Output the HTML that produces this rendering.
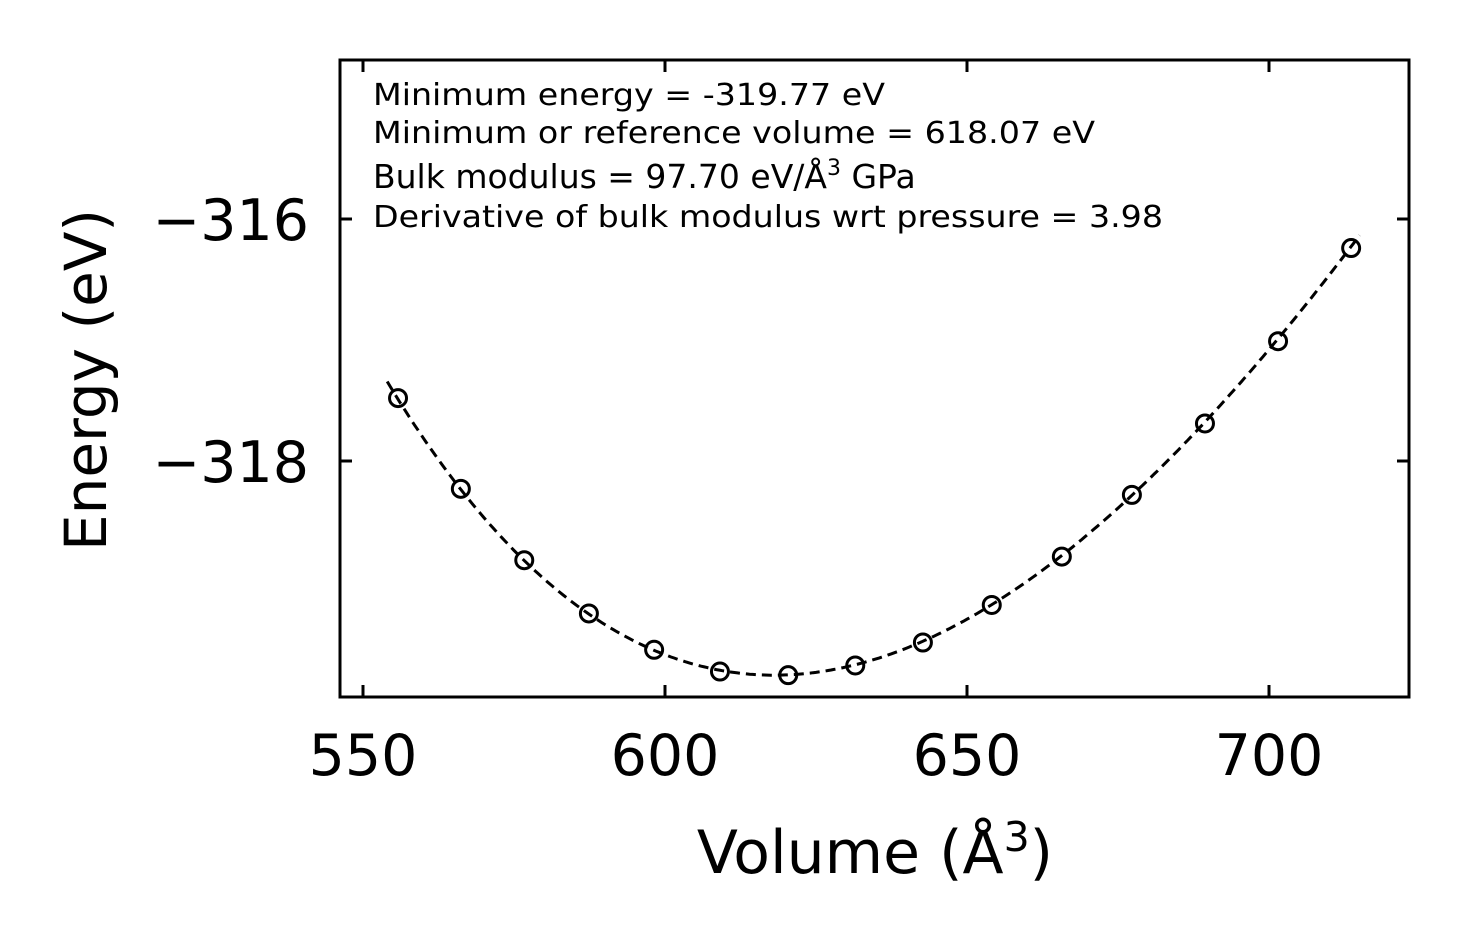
<!DOCTYPE html>
<html><head><meta charset="utf-8"><style>
body{margin:0;background:#fff}
svg{display:block;font-family:"DejaVu Sans","Liberation Sans",sans-serif}
</style></head><body>
<svg id="chart" width="1469" height="943" viewBox="0 0 1469 943" xmlns="http://www.w3.org/2000/svg">
<rect width="1469" height="943" fill="#fff"/>
<g id="plot"></g>
<text x="373" y="105" font-size="30" textLength="512" lengthAdjust="spacingAndGlyphs">Minimum energy = -319.77 eV</text>
<text x="373" y="143" font-size="30" textLength="722" lengthAdjust="spacingAndGlyphs">Minimum or reference volume = 618.07 eV</text>
<text x="373" y="188" font-size="33">Bulk modulus = 97.70 eV/Å<tspan font-size="22" dy="-13">3</tspan><tspan dy="13"> GPa</tspan></text>
<text x="373" y="227" font-size="30" textLength="790" lengthAdjust="spacingAndGlyphs">Derivative of bulk modulus wrt pressure = 3.98</text>
<text x="875" y="873" font-size="60" text-anchor="middle">Volume (Å<tspan font-size="41" dy="-22">3</tspan><tspan dy="22">)</tspan></text>
<text transform="translate(106,380) rotate(-90)" font-size="58" text-anchor="middle">Energy (eV)</text>
</svg>
<script>
const volumes=[555.8,566.2,576.7,587.4,598.2,609.1,620.4,631.5,642.7,654.1,665.7,677.3,689.4,701.5,713.6];
const energies=[-317.48,-318.23,-318.82,-319.26,-319.56,-319.74,-319.77,-319.69,-319.50,-319.19,-318.79,-318.28,-317.69,-317.01,-316.24];
const xTicks=[550,600,650,700];
const yTicks=[-316,-318];
const fitParams=[-319.77,618.07,97.70,3.98];
const L=340,R=1409,T=60,B=697;
const xs=v=>363+(v-550)*6.04;
const ys=e=>219-(e+316)*121;
const NS="http://www.w3.org/2000/svg";
const g=document.getElementById('plot');
function mk(t,a){const e=document.createElementNS(NS,t);for(const k in a)e.setAttribute(k,a[k]);g.appendChild(e);return e;}
const [E0,V0,Bg,Bp]=fitParams;const Bv=Bg/160.21766;
let d='';
for(let v=554;v<=715.3;v+=0.5){const eta=Math.pow(V0/v,2/3)-1;const E=E0+9*V0*Bv/16*(eta**3*Bp+eta**2*(6-4*(eta+1)));d+=(d?'L':'M')+xs(v).toFixed(1)+','+ys(E).toFixed(1);}
const fit=mk('path',{d:d,fill:'none',stroke:'#000','stroke-width':3,'stroke-dasharray':'10,6'});


volumes.forEach((v,i)=>{const c=mk('circle',{cx:xs(v),cy:ys(energies[i]),r:8.5,fill:'none',stroke:'#000','stroke-width':3});

});
const fr=mk('rect',{x:L,y:T,width:R-L,height:B-T,fill:'none',stroke:'#000','stroke-width':3});


xTicks.forEach(t=>{const x=xs(t);
mk('line',{x1:x,x2:x,y1:B,y2:B-12,stroke:'#000','stroke-width':3});
mk('line',{x1:x,x2:x,y1:T,y2:T+12,stroke:'#000','stroke-width':3});
const tx=mk('text',{x:x,y:B+78,'font-size':57,'text-anchor':'middle'});tx.textContent=t;

});
yTicks.forEach(t=>{const y=ys(t);
mk('line',{x1:L,x2:L+12,y1:y,y2:y,stroke:'#000','stroke-width':3});
mk('line',{x1:R,x2:R-12,y1:y,y2:y,stroke:'#000','stroke-width':3});
const tx=mk('text',{x:309,y:y+21,'font-size':57,'text-anchor':'end'});tx.textContent='\u2212'+Math.abs(t);

});
</script>
</body></html>
